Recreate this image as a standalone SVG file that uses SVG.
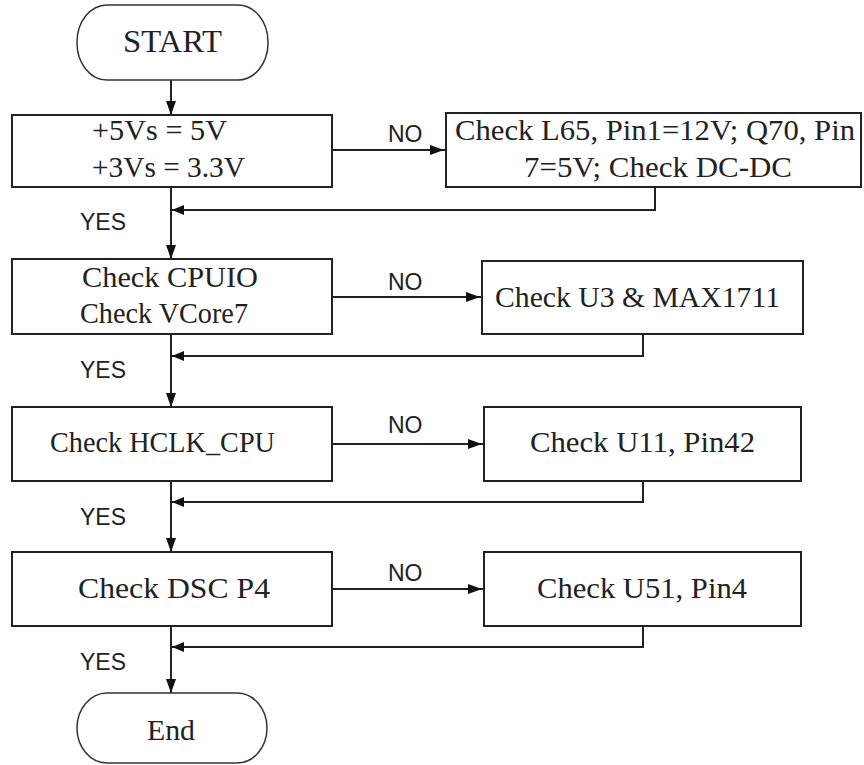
<svg xmlns="http://www.w3.org/2000/svg" width="864" height="765" viewBox="0 0 864 765">
<defs>
<style>
.box{fill:#fff;stroke:#222;stroke-width:2}
.term{fill:#fff;stroke:#333;stroke-width:1.5}
.t{font-family:"Liberation Serif","Times New Roman",serif;font-size:29px;fill:#222}
.lbl{font-family:"Liberation Sans",Arial,sans-serif;font-size:23px;fill:#222}
.ln{fill:none;stroke:#222;stroke-width:2}
</style>
<marker id="ah" markerUnits="userSpaceOnUse" markerWidth="24" markerHeight="12" viewBox="0 0 24 12" refX="20" refY="6" orient="auto">
<path d="M4,1 L18,6 L4,11 z" fill="#111"/>
</marker>
<marker id="ahl" markerUnits="userSpaceOnUse" markerWidth="24" markerHeight="12" viewBox="0 0 24 12" refX="18" refY="6" orient="auto">
<path d="M6,1 L18,6 L6,11 z" fill="#111"/>
</marker>
</defs>
<rect width="864" height="765" fill="#fff"/>
<g id="connectors">
<path class="ln" d="M171,80 V117" marker-end="url(#ah)"/>
<path class="ln" d="M171,187 V261" marker-end="url(#ah)"/>
<path class="ln" d="M171,334 V409" marker-end="url(#ah)"/>
<path class="ln" d="M171,481 V554" marker-end="url(#ah)"/>
<path class="ln" d="M171,626 V695" marker-end="url(#ah)"/>
<path class="ln" d="M332,150 H446" marker-end="url(#ah)"/>
<path class="ln" d="M332,297 H482" marker-end="url(#ah)"/>
<path class="ln" d="M332,444 H484" marker-end="url(#ah)"/>
<path class="ln" d="M332,589 H484" marker-end="url(#ah)"/>
<path class="ln" d="M655,187 V210 H172" marker-end="url(#ahl)"/>
<path class="ln" d="M643,334 V356 H172" marker-end="url(#ahl)"/>
<path class="ln" d="M643,481 V502 H172" marker-end="url(#ahl)"/>
<path class="ln" d="M643,626 V647 H172" marker-end="url(#ahl)"/>
<text class="lbl" x="388" y="142">NO</text>
<text class="lbl" x="388" y="290">NO</text>
<text class="lbl" x="388" y="433">NO</text>
<text class="lbl" x="388" y="581">NO</text>
<text class="lbl" x="80" y="230">YES</text>
<text class="lbl" x="80" y="378">YES</text>
<text class="lbl" x="80" y="525">YES</text>
<text class="lbl" x="80" y="670">YES</text>
</g>
<g id="start">
<rect class="term" x="77" y="5" width="191" height="75" rx="30" ry="37"/>
<text class="t" style="font-size:32px" x="123" y="52" textLength="99" lengthAdjust="spacingAndGlyphs">START</text>
</g>
<g id="check-voltage">
<rect class="box" x="12" y="115" width="320" height="72"/>
<text class="t" x="92" y="140" textLength="135" lengthAdjust="spacingAndGlyphs">+5Vs = 5V</text>
<text class="t" x="92" y="177" textLength="153" lengthAdjust="spacingAndGlyphs">+3Vs = 3.3V</text>
</g>
<g id="check-l65">
<rect class="box" x="446" y="113" width="415" height="74"/>
<text class="t" x="455" y="140" textLength="400" lengthAdjust="spacingAndGlyphs">Check L65, Pin1=12V; Q70, Pin</text>
<text class="t" x="524" y="177" textLength="268" lengthAdjust="spacingAndGlyphs">7=5V; Check DC-DC</text>
</g>
<g id="check-cpuio">
<rect class="box" x="12" y="259" width="320" height="75"/>
<text class="t" x="82" y="287" textLength="176" lengthAdjust="spacingAndGlyphs">Check CPUIO</text>
<text class="t" x="80" y="323" textLength="168" lengthAdjust="spacingAndGlyphs">Check VCore7</text>
</g>
<g id="check-u3">
<rect class="box" x="482" y="261" width="321" height="73"/>
<text class="t" x="495" y="307" textLength="285" lengthAdjust="spacingAndGlyphs">Check U3 &amp; MAX1711</text>
</g>
<g id="check-hclk">
<rect class="box" x="12" y="407" width="320" height="74"/>
<text class="t" x="50" y="452" textLength="225" lengthAdjust="spacingAndGlyphs">Check HCLK_CPU</text>
</g>
<g id="check-u11">
<rect class="box" x="484" y="407" width="317" height="74"/>
<text class="t" x="530" y="452" textLength="225" lengthAdjust="spacingAndGlyphs">Check U11, Pin42</text>
</g>
<g id="check-dsc">
<rect class="box" x="12" y="552" width="320" height="74"/>
<text class="t" x="78" y="598" textLength="192" lengthAdjust="spacingAndGlyphs">Check DSC P4</text>
</g>
<g id="check-u51">
<rect class="box" x="484" y="552" width="317" height="74"/>
<text class="t" x="537" y="598" textLength="210" lengthAdjust="spacingAndGlyphs">Check U51, Pin4</text>
</g>
<g id="end">
<rect class="term" x="77" y="693" width="190" height="70" rx="30" ry="35"/>
<text class="t" x="147" y="740" textLength="48" lengthAdjust="spacingAndGlyphs">End</text>
</g>
</svg>
